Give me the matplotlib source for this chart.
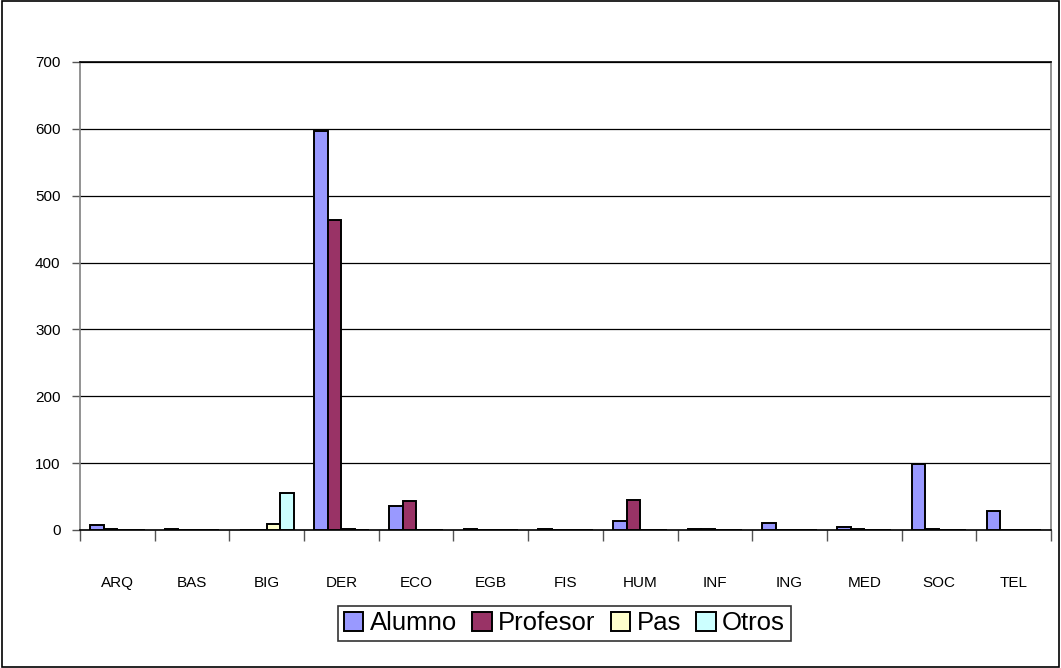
import matplotlib.pyplot as plt
import numpy as np
from matplotlib.patches import Rectangle

plt.rcParams['font.family'] = ['Liberation Sans', 'DejaVu Sans']

# data
categories = ['ARQ', 'BAS', 'BIG', 'DER', 'ECO', 'EGB', 'FIS', 'HUM', 'INF', 'ING', 'MED', 'SOC', 'TEL']
alumno = [8, 1, 0, 597, 36, 1, 1, 13, 1, 10, 4, 98, 29]
profesor = [1, 0, 0, 463, 43, 0, 0, 45, 1, 0, 1, 1, 0]
pas = [0, 0, 9, 1, 0, 0, 0, 0, 0, 0, 0, 0, 0]
otros = [0, 0, 55, 0, 0, 0, 0, 0, 0, 0, 0, 0, 0]

series = [('Alumno', alumno, '#9999FF'),
          ('Profesor', profesor, '#993366'),
          ('Pas', pas, '#FFFFCC'),
          ('Otros', otros, '#CCFFFF')]

fig = plt.figure(figsize=(10.61, 6.68), dpi=100)
# outer frame
fig.patches.append(Rectangle((0.0015, 0.002), 0.997, 0.996, transform=fig.transFigure,
                             fill=False, edgecolor='black', linewidth=1.2))
ax = fig.add_axes([0.0754, 0.2066, 0.9152, 0.7006])

x = np.arange(len(categories))
width = 1 / 5.5
for i, (name, vals, col) in enumerate(series):
    offs = (i - 1.5) * width
    ax.bar(x + offs, vals, width, color=col, edgecolor='black', linewidth=1.4, label=name, zorder=3)

ax.set_xlim(-0.5, len(categories) - 0.5)
ax.set_ylim(0, 700)
ax.set_yticks(range(0, 701, 100))
ax.yaxis.grid(True, color='black', linewidth=0.9, zorder=0)
ax.set_axisbelow(True)

# category labels at centres, ticks at boundaries
ax.set_xticks(x)
ax.set_xticklabels(categories)
ax.set_xticks(np.arange(-0.5, len(categories), 1), minor=True)
ax.tick_params(axis='x', which='major', length=0, pad=33, labelsize=11)
ax.tick_params(axis='x', which='minor', length=8, width=1, color='#555555', direction='out')
ax.tick_params(axis='y', length=6, width=1, color='#555555', labelsize=11, pad=8)

for s in ['left', 'right', 'top']:
    ax.spines[s].set_color('#808080')
    ax.spines[s].set_linewidth(1.2)
ax.spines['top'].set_color('black')
ax.spines['bottom'].set_color('black')
ax.spines['bottom'].set_linewidth(1.2)

leg = fig.legend(loc='center', bbox_to_anchor=(0.532, 0.067), ncol=4, fontsize=18.5,
                 frameon=True, fancybox=False, edgecolor='black', handlelength=0.75,
                 handleheight=0.75, handletextpad=0.25, columnspacing=0.6,
                 borderpad=0.22, borderaxespad=0)
leg.get_frame().set_linewidth(1.2)

fig.savefig('out.png', dpi=100)
